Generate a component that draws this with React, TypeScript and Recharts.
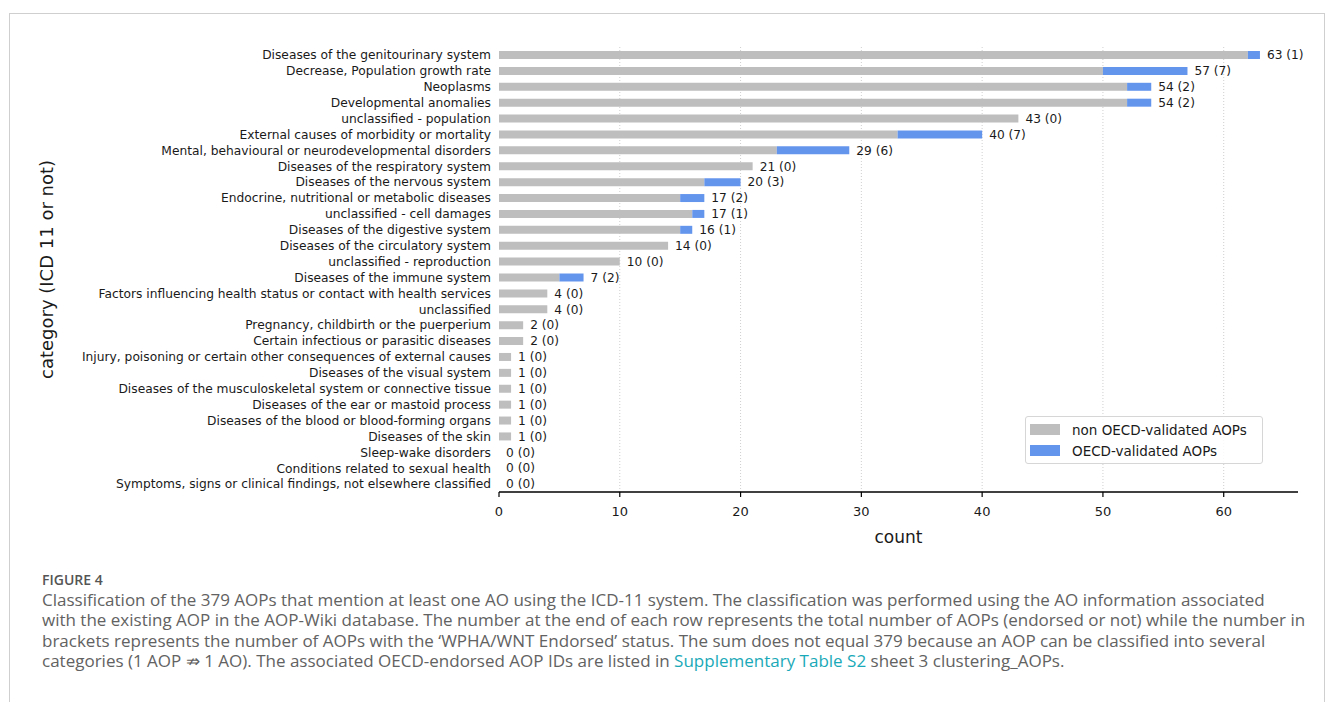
import React from "react";
import {
  Bar,
  BarChart,
  CartesianGrid,
  LabelList,
  Legend,
  XAxis,
  YAxis,
} from "recharts";

const categories = [
  "Diseases of the genitourinary system",
  "Decrease, Population growth rate",
  "Neoplasms",
  "Developmental anomalies",
  "unclassified - population",
  "External causes of morbidity or mortality",
  "Mental, behavioural or neurodevelopmental disorders",
  "Diseases of the respiratory system",
  "Diseases of the nervous system",
  "Endocrine, nutritional or metabolic diseases",
  "unclassified - cell damages",
  "Diseases of the digestive system",
  "Diseases of the circulatory system",
  "unclassified - reproduction",
  "Diseases of the immune system",
  "Factors influencing health status or contact with health services",
  "unclassified",
  "Pregnancy, childbirth or the puerperium",
  "Certain infectious or parasitic diseases",
  "Injury, poisoning or certain other consequences of external causes",
  "Diseases of the visual system",
  "Diseases of the musculoskeletal system or connective tissue",
  "Diseases of the ear or mastoid process",
  "Diseases of the blood or blood-forming organs",
  "Diseases of the skin",
  "Sleep-wake disorders",
  "Conditions related to sexual health",
  "Symptoms, signs or clinical findings, not elsewhere classified",
];

// total number of AOPs per category
const totals = [63, 57, 54, 54, 43, 40, 29, 21, 20, 17, 17, 16, 14, 10, 7, 4, 4, 2, 2, 1, 1, 1, 1, 1, 1, 0, 0, 0];
// of which OECD endorsed
const endorsed = [1, 7, 2, 2, 0, 7, 6, 0, 3, 2, 1, 1, 0, 0, 2, 0, 0, 0, 0, 0, 0, 0, 0, 0, 0, 0, 0, 0];

const xTicks = [0, 10, 20, 30, 40, 50, 60];

const GREY = "#bebebe";
const BLUE = "#6495ed";
const FONT = "'DejaVu Sans', sans-serif";

const rows = categories.map((name, i) => ({
  name,
  non: totals[i] - endorsed[i],
  oecd: endorsed[i],
  total: totals[i],
  label: `${totals[i]} (${endorsed[i]})`,
}));

const captionLines = [
  "Classification of the 379 AOPs that mention at least one AO using the ICD-11 system. The classification was performed using the AO information associated",
  "with the existing AOP in the AOP-Wiki database. The number at the end of each row represents the total number of AOPs (endorsed or not) while the number in",
  "brackets represents the number of AOPs with the \u2018WPHA/WNT Endorsed\u2019 status. The sum does not equal 379 because an AOP can be classified into several",
];

function ValueLabel(props: any) {
  const { x, y, height, value, index } = props;
  // the invisible "total" bar keeps a 1px width for empty rows, so start from its left edge
  const end = Number(x) + (rows[index] && rows[index].total === 0 ? 0 : Number(props.width));
  return (
    <text
      x={end + 7}
      y={Number(y) + Number(height) / 2}
      dy="0.35em"
      fontSize={12.2}
      fill="#1a1a1a"
      fontFamily={FONT}
    >
      {value}
    </text>
  );
}

function LegendBox() {
  const items = [
    { label: "non OECD-validated AOPs", color: GREY },
    { label: "OECD-validated AOPs", color: BLUE },
  ];
  return (
    <div
      style={{
        border: "1px solid #d6d6d6",
        borderRadius: 3,
        background: "rgba(255,255,255,0.85)",
        padding: "2px 4px 2px 4px",
        fontFamily: FONT,
        fontSize: 13.5,
        color: "#1a1a1a",
        width: 238,
        boxSizing: "border-box",
        whiteSpace: "nowrap",
      }}
    >
      {items.map((it) => (
        <div key={it.label} style={{ display: "flex", alignItems: "center", height: 21 }}>
          <span style={{ width: 30, height: 11, background: it.color, marginRight: 12, flex: "none" }} />
          <span>{it.label}</span>
        </div>
      ))}
    </div>
  );
}

export default function App() {
  return (
    <div
      style={{
        position: "absolute",
        left: 0,
        top: 0,
        width: 1333,
        height: 702,
        overflow: "hidden",
        background: "#fff",
      }}
    >
      <div
        style={{
          position: "absolute",
          left: 9,
          top: 13,
          width: 1316,
          height: 700,
          border: "1px solid #cfcfcf",
          borderBottom: "none",
          boxSizing: "border-box",
        }}
      />
      <div style={{ position: "absolute", left: 0, top: 0 }}>
        <BarChart
          width={1333}
          height={565}
          data={rows}
          layout="vertical"
          margin={{ top: 47, right: 35, bottom: 18, left: 0 }}
          barSize={8}
          barGap={-8}
          style={{ fontFamily: FONT }}
        >
          <CartesianGrid
            horizontal={false}
            verticalValues={[10, 20, 30, 40, 50, 60]}
            stroke="#cfcfcf"
            strokeDasharray="1 2"
          />
          <XAxis
            type="number"
            domain={[0, 66.15]}
            ticks={xTicks}
            allowDataOverflow
            height={55}
            tickSize={5}
            tickMargin={10}
            axisLine={{ stroke: "#000", strokeWidth: 1.5 }}
            tickLine={{ stroke: "#000", strokeWidth: 1.2 }}
            tick={{ fill: "#1a1a1a", fontSize: 13, fontFamily: FONT }}
            label={{
              value: "count",
              position: "insideBottom",
              offset: 4,
              fill: "#1a1a1a",
              fontSize: 17,
              fontFamily: FONT,
            }}
          />
          <YAxis
            type="category"
            dataKey="name"
            width={499}
            interval={0}
            axisLine={false}
            tickLine={false}
            tick={{ fill: "#1a1a1a", fontSize: 12.25, fontFamily: FONT }}
            label={{
              value: "category (ICD 11 or not)",
              angle: -90,
              position: "insideLeft",
              offset: 47,
              fill: "#1a1a1a",
              fontSize: 18,
              fontFamily: FONT,
              style: { textAnchor: "middle" },
            }}
          />
          <Legend
            layout="vertical"
            align="center"
            verticalAlign="middle"
            content={() => <LegendBox />}
            wrapperStyle={{ left: 1025, top: 416, width: 240 }}
          />
          <Bar
            dataKey="non"
            stackId="a"
            fill={GREY}
            name="non OECD-validated AOPs"
            isAnimationActive={false}
          />
          <Bar
            dataKey="oecd"
            stackId="a"
            fill={BLUE}
            name="OECD-validated AOPs"
            isAnimationActive={false}
          />
          <Bar
            dataKey="total"
            stackId="b"
            fill="transparent"
            minPointSize={1}
            legendType="none"
            isAnimationActive={false}
          >
            <LabelList dataKey="label" content={ValueLabel} />
          </Bar>
        </BarChart>
      </div>
      <div
        style={{
          position: "absolute",
          left: 42,
          top: 570,
          fontFamily: "'Open Sans', sans-serif",
          color: "#626262",
          whiteSpace: "nowrap",
        }}
      >
        <div style={{ fontSize: 14, fontWeight: 600, color: "#555", lineHeight: "20px", height: 20 }}>
          FIGURE 4
        </div>
        {captionLines.map((l) => (
          <div key={l} style={{ fontSize: 17, lineHeight: "20.4px", height: 20.4 }}>
            {l}
          </div>
        ))}
        <div style={{ fontSize: 17, lineHeight: "20.4px", height: 20.4 }}>
          categories (1 AOP {"\u21CF"} 1 AO). The associated OECD-endorsed AOP IDs are listed in{" "}
          <span style={{ color: "#1aa9b8" }}>Supplementary Table S2</span> sheet 3 clustering_AOPs.
        </div>
      </div>
    </div>
  );
}
